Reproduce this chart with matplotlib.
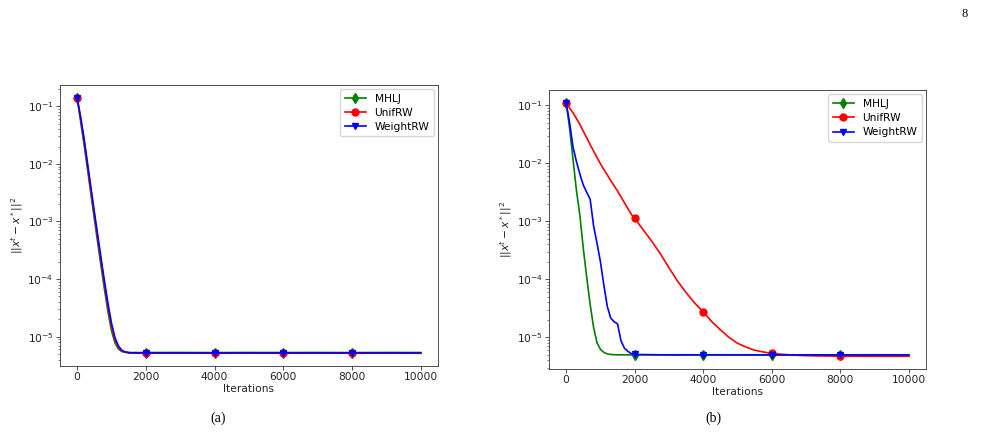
import matplotlib
matplotlib.use("Agg")
import matplotlib.pyplot as plt

# ----- data ------------------------------------------------------------------
ITER_FINE = list(range(0, 2001, 100))
ITER_TAIL = list(range(3000, 10001, 1000))
ITER_RED_B = ITER_FINE + list(range(2250, 10001, 250))

# (a) all three walks converge together
A_MHLJ = [0.140, 0.055, 0.022, 8.2e-3, 3.0e-3, 1.12e-3, 4.2e-4, 1.6e-4, 6.3e-5,
          2.6e-5, 1.25e-5, 7.8e-6, 6.1e-6, 5.5e-6, 5.35e-6, 5.3e-6, 5.28e-6,
          5.3e-6, 5.27e-6, 5.3e-6, 5.29e-6,
          5.3e-6, 5.28e-6, 5.3e-6, 5.29e-6, 5.3e-6, 5.28e-6, 5.3e-6, 5.29e-6]
A_UNIF = [0.141, 0.0617, 0.0251, 9.3e-3, 3.4e-3, 1.29e-3, 4.9e-4, 1.9e-4, 7.6e-5,
          3.16e-5, 1.48e-5, 8.7e-6, 6.5e-6, 5.6e-6, 5.37e-6, 5.25e-6, 5.2e-6,
          5.18e-6, 5.17e-6, 5.16e-6, 5.15e-6,
          5.15e-6, 5.14e-6, 5.15e-6, 5.14e-6, 5.15e-6, 5.14e-6, 5.15e-6, 5.14e-6]
A_WEIGHT = [0.138, 0.066, 0.028, 0.0105, 3.9e-3, 1.48e-3, 5.7e-4, 2.2e-4, 8.8e-5,
            3.7e-5, 1.7e-5, 9.6e-6, 6.9e-6, 5.8e-6, 5.4e-6, 5.25e-6, 5.22e-6,
            5.22e-6, 5.21e-6, 5.22e-6, 5.22e-6,
            5.22e-6, 5.21e-6, 5.22e-6, 5.22e-6, 5.21e-6, 5.22e-6, 5.21e-6, 5.22e-6]

# (b) the walks separate
B_MHLJ = [0.110, 0.0398, 0.0117, 3.39e-3, 1.26e-3, 3.39e-4, 1.07e-4, 3.7e-5,
          1.48e-5, 8.1e-6, 6.2e-6, 5.5e-6, 5.19e-6, 5.07e-6, 5.02e-6, 5.0e-6,
          5.0e-6, 5.0e-6, 5.0e-6, 5.0e-6, 5.0e-6,
          5.0e-6, 5.01e-6, 5.0e-6, 5.01e-6, 5.0e-6, 5.0e-6, 5.01e-6, 5.0e-6]
B_WEIGHT = [0.110, 0.0501, 0.0191, 0.0107, 6.5e-3, 4.2e-3, 3.16e-3, 2.4e-3,
            8.3e-4, 4.2e-4, 2.0e-4, 7.9e-5, 3.4e-5, 2.14e-5, 1.86e-5, 1.70e-5,
            8.7e-6, 6.5e-6, 5.75e-6, 5.25e-6, 5.07e-6,
            4.98e-6, 4.99e-6, 4.98e-6, 4.98e-6, 4.97e-6, 4.98e-6, 4.97e-6, 4.97e-6]
B_UNIF = [0.110, 0.0891, 0.0741, 0.0589, 0.0468, 0.0355, 0.0275, 0.0209, 0.0162,
          0.0126, 9.8e-3, 7.8e-3, 6.3e-3, 5.0e-3, 4.1e-3, 3.3e-3, 2.63e-3,
          2.09e-3, 1.66e-3, 1.32e-3, 1.12e-3,
          7.1e-4, 4.5e-4, 2.75e-4, 1.58e-4, 9.3e-5, 5.9e-5, 3.9e-5, 2.75e-5,
          1.86e-5, 1.35e-5, 1.0e-5, 7.9e-6, 6.8e-6, 6.0e-6, 5.6e-6, 5.3e-6,
          5.13e-6, 5.0e-6, 4.9e-6, 4.84e-6, 4.8e-6, 4.78e-6, 4.76e-6, 4.74e-6,
          4.73e-6, 4.72e-6, 4.72e-6, 4.72e-6, 4.71e-6, 4.71e-6, 4.71e-6, 4.71e-6]

LABELS = ["MHLJ", "UnifRW", "WeightRW"]
COLORS = ["green", "red", "blue"]
MARKERS = ["d", "o", "v"]
XTICKS = [0, 2000, 4000, 6000, 8000, 10000]

# ----- style (scaled-down default matplotlib look) ---------------------------
plt.rcParams.update({
    "font.family": "DejaVu Sans",
    "font.size": 7.7,
    "lines.linewidth": 1.2,
    "lines.markersize": 5.0,
    "axes.linewidth": 0.6,
    "axes.edgecolor": "#333333",
    "xtick.major.size": 2.6, "xtick.major.width": 0.6,
    "ytick.major.size": 2.6, "ytick.major.width": 0.6,
    "ytick.minor.size": 1.5, "ytick.minor.width": 0.45,
    "xtick.color": "#333333", "ytick.color": "#333333",
    "xtick.labelcolor": "#222222", "ytick.labelcolor": "#222222",
    "legend.fontsize": 7.7,
})


def marks(xs):
    # markers every 2000 iterations, the last point carries none
    return [i for i, v in enumerate(xs) if v % 2000 == 0 and v < 10000]


def draw_panel(ax, series):
    for (xs, ys), lab, col, mk in zip(series, LABELS, COLORS, MARKERS):
        ax.plot(xs, ys, color=col, marker=mk, markevery=marks(xs), label=lab)
    ax.set_yscale("log")
    ax.set_xlabel("Iterations", labelpad=1.5, color="#222222")
    ax.set_ylabel(r"$||x^t - x^*||^2$", labelpad=2, color="#222222")
    ax.set_xticks(XTICKS)
    ax.tick_params(axis="both", pad=2)
    ax.legend(loc="upper right", borderpad=0.4, labelspacing=0.4,
              handletextpad=0.8, borderaxespad=0.4)


fig = plt.figure(figsize=(9.88, 4.33), dpi=100, facecolor="white")
ax_a = fig.add_axes([0.0607, 0.1547, 0.3826, 0.649])
ax_b = fig.add_axes([0.5557, 0.1478, 0.3816, 0.644])

draw_panel(ax_a, [(ITER_FINE + ITER_TAIL, A_MHLJ),
                  (ITER_FINE + ITER_TAIL, A_UNIF),
                  (ITER_FINE + ITER_TAIL, A_WEIGHT)])
draw_panel(ax_b, [(ITER_FINE + ITER_TAIL, B_MHLJ),
                  (ITER_RED_B, B_UNIF),
                  (ITER_FINE + ITER_TAIL, B_WEIGHT)])

serif = ["Liberation Serif", "DejaVu Serif"]
fig.text(218 / 988, 1 - 418 / 433, "(a)", ha="center", va="center",
         fontsize=10, family=serif)
fig.text(713 / 988, 1 - 418 / 433, "(b)", ha="center", va="center",
         fontsize=10, family=serif)
fig.text(965 / 988, 1 - 14 / 433, "8", ha="center", va="center",
         fontsize=9, family=serif)

fig.savefig("out.png", dpi=100, facecolor="white")
